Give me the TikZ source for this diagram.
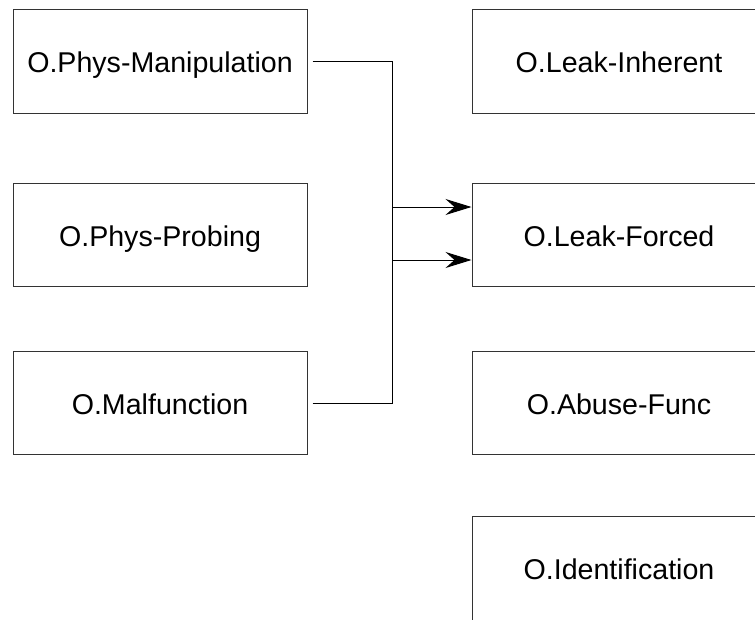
\documentclass[tikz,border=0pt]{standalone}
\usepackage{fontspec}
\setmainfont{Liberation Sans}
\usetikzlibrary{arrows.meta}

\begin{document}
\begin{tikzpicture}[x=1pt,y=-1pt,
    objbox/.style={draw=black!80,line width=1pt,minimum width=294pt,minimum height=103.5pt,
      inner sep=0pt,text height=22pt,text depth=0pt,font=\fontsize{28.6}{34}\selectfont},
    conn/.style={line width=1pt,-{Stealth[length=26pt,width=16pt,inset=9pt]}}]
        % threats on the left, objectives on the right
        \clip (0,0) rectangle (755,619);
        \node[objbox] (physman) at (160,61.5) {O.Phys-Manipulation};
        \node[objbox] (physprob) at (160,235) {O.Phys-Probing};
        \node[objbox] (malfunc) at (160,403) {O.Malfunction};
        \node[objbox] (leakinh) at (619,61.5) {O.Leak-Inherent};
        \node[objbox] (leakforc) at (619,235) {O.Leak-Forced};
        \node[objbox] (abusefunc) at (619,403) {O.Abuse-Func};
        \node[objbox] (ident) at (619,568.5) {O.Identification};
        \draw[conn,shorten <=5pt] (physman.east) -- ++(85,0) |- ([yshift=-25pt]leakforc.west);
        \draw[conn,shorten <=5pt] (malfunc.east) -- ++(85,0) |- ([yshift=28pt]leakforc.west);
    \end{tikzpicture}
\end{document}
